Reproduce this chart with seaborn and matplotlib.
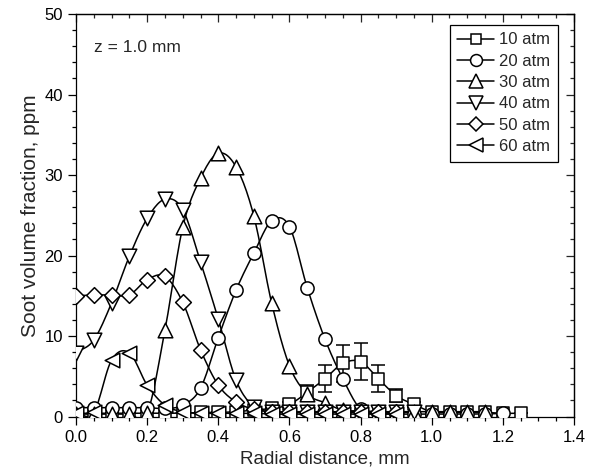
import numpy as np
import pandas as pd
import matplotlib
matplotlib.use("Agg")
import matplotlib.pyplot as plt
from matplotlib.lines import Line2D
from matplotlib.ticker import MultipleLocator
import seaborn as sns

# ---------------- data ----------------
x10 = [0.0, 0.05, 0.10, 0.15, 0.20, 0.25, 0.30, 0.35, 0.40, 0.45, 0.50, 0.55, 0.60,
       0.65, 0.70, 0.75, 0.80, 0.85, 0.90, 0.95, 1.00, 1.05, 1.10, 1.15, 1.20, 1.25]
y10 = [0.4, 0.4, 0.4, 0.4, 0.4, 0.4, 0.4, 0.5, 0.5, 0.6, 0.8, 1.0, 1.5,
       3.0, 4.7, 6.6, 6.8, 4.7, 2.6, 1.5, 0.6, 0.5, 0.5, 0.5, 0.4, 0.4]
e10 = [0, 0, 0, 0, 0, 0, 0, 0, 0, 0, 0, 0, 0.3,
       0.9, 1.7, 2.3, 2.3, 1.7, 0.8, 0.3, 0, 0, 0, 0, 0, 0]

x20 = [0.0, 0.05, 0.10, 0.15, 0.20, 0.25, 0.30, 0.35, 0.40, 0.45, 0.50, 0.55, 0.60,
       0.65, 0.70, 0.75, 0.80, 0.85, 0.90, 0.95, 1.00, 1.05, 1.10, 1.15, 1.20]
y20 = [1.1, 1.1, 1.1, 1.1, 1.1, 1.0, 1.4, 3.5, 9.8, 15.7, 20.3, 24.3, 23.6,
       16.0, 9.6, 4.7, 0.9, 0.4, 0.3, 0.3, 0.3, 0.3, 0.3, 0.3, 0.4]

x30 = [0.0, 0.05, 0.10, 0.15, 0.20, 0.25, 0.30, 0.35, 0.40, 0.45, 0.50, 0.55,
       0.60, 0.65, 0.70, 0.75, 0.80, 0.85, 0.90, 0.95, 1.00, 1.05, 1.10, 1.15]
y30 = [0.3, 0.3, 0.3, 0.3, 0.4, 10.7, 23.5, 29.6, 32.7, 31.0, 24.9, 14.1,
       6.3, 2.8, 1.7, 0.8, 0.7, 0.6, 0.6, 0.6, 0.6, 0.6, 0.6, 0.6]

x40 = [0.0, 0.05, 0.10, 0.15, 0.20, 0.25, 0.30, 0.35, 0.40, 0.45, 0.50, 0.55,
       0.60, 0.65, 0.70, 0.75, 0.80, 0.85, 0.90, 0.95]
y40 = [7.9, 9.5, 14.1, 19.9, 24.6, 27.0, 25.7, 19.2, 12.1, 4.5, 1.2, 0.6,
       0.6, 0.6, 0.6, 0.6, 0.6, 0.5, 0.5, 0.5]

x50 = [0.0, 0.05, 0.10, 0.15, 0.20, 0.25, 0.30, 0.35, 0.40, 0.45, 0.50, 0.55,
       0.60, 0.65, 0.70, 0.75, 0.80, 0.85, 0.90]
y50 = [15.0, 15.1, 15.1, 15.1, 17.0, 17.4, 14.2, 8.3, 3.9, 1.8, 0.9, 0.6,
       0.5, 0.5, 0.5, 0.5, 0.5, 0.5, 0.5]

x60 = [0.0, 0.05, 0.10, 0.15, 0.20, 0.25, 0.30, 0.35, 0.40, 0.45, 0.50, 0.55,
       0.60, 0.65, 0.70, 0.75, 0.80, 0.85, 0.90]
y60 = [0.4, 0.5, 7.0, 7.9, 3.9, 1.4, 0.6, 0.4, 0.4, 0.4, 0.4, 0.3,
       0.3, 0.3, 0.3, 0.3, 0.3, 0.3, 0.3]

labels = ["10 atm", "20 atm", "30 atm", "40 atm", "50 atm", "60 atm"]
markers = ["s", "o", "^", "v", "D", "<"]
msizes = [8.5, 9.5, 10.5, 10.5, 8, 10.5]

series = [(x10, y10), (x20, y20), (x30, y30), (x40, y40), (x50, y50), (x60, y60)]

# ---------------- style ----------------
sns.set_style("ticks")
plt.rcParams["font.family"] = ["Liberation Sans", "DejaVu Sans"]
plt.rcParams["axes.linewidth"] = 0.9


def smooth(x, y, n=12):
    """Catmull-Rom curve through the data points (for drawing only)."""
    x = np.asarray(x, float)
    y = np.asarray(y, float)
    P = np.column_stack([x, y])
    P = np.vstack([2 * P[0] - P[1], P, 2 * P[-1] - P[-2]])
    out = []
    t = np.linspace(0, 1, n, endpoint=False)
    for i in range(1, len(P) - 2):
        p0, p1, p2, p3 = P[i - 1], P[i], P[i + 1], P[i + 2]
        t2 = t * t
        t3 = t2 * t
        seg = 0.5 * ((2 * p1)[None, :] + (-p0 + p2)[None, :] * t[:, None]
                     + (2 * p0 - 5 * p1 + 4 * p2 - p3)[None, :] * t2[:, None]
                     + (-p0 + 3 * p1 - 3 * p2 + p3)[None, :] * t3[:, None])
        out.append(seg)
    out.append(P[-2][None, :])
    out = np.vstack(out)
    return out[:, 0], out[:, 1]


fig = plt.figure(figsize=(5.93, 4.73), dpi=100)
ax = fig.add_axes([76 / 593, 1 - 416.5 / 473, (574 - 76) / 593, (416.5 - 14) / 473])

# error bars for 10 atm
ax.errorbar(x10, y10, yerr=e10, fmt="none", ecolor="black", elinewidth=1.1,
            capsize=5, capthick=1.1, zorder=2)

for (xs, ys), lab, m, ms in zip(series, labels, markers, msizes):
    sx, sy = smooth(xs, ys)
    df_line = pd.DataFrame({"x": sx, "y": sy})
    sns.lineplot(data=df_line, x="x", y="y", ax=ax, color="black", linewidth=1.1,
                 sort=False, estimator=None, zorder=3)
    df_pts = pd.DataFrame({"x": xs, "y": ys})
    sns.scatterplot(data=df_pts, x="x", y="y", ax=ax, marker=m, s=ms ** 2,
                    facecolor="white", edgecolor="black", linewidth=1.1, zorder=4)

ax.set_xlim(0, 1.4)
ax.set_ylim(0, 50)
ax.xaxis.set_major_locator(MultipleLocator(0.2))
ax.xaxis.set_minor_locator(MultipleLocator(0.05))
ax.yaxis.set_major_locator(MultipleLocator(10))
ax.yaxis.set_minor_locator(MultipleLocator(2))
ax.set_xticklabels([f"{v:.1f}" for v in ax.get_xticks()])
ax.tick_params(which="major", direction="out", length=6, width=0.9, labelsize=12,
               color="black", labelcolor="black")
ax.tick_params(which="minor", direction="out", length=3, width=0.9, color="black")
for s in ax.spines.values():
    s.set_visible(True)
    s.set_color("black")

# inward ticks on top and right
secx = ax.secondary_xaxis("top")
secx.xaxis.set_major_locator(MultipleLocator(0.2))
secx.xaxis.set_minor_locator(MultipleLocator(0.05))
secx.tick_params(which="major", direction="in", length=6, width=0.9, labeltop=False)
secx.tick_params(which="minor", direction="in", length=3, width=0.9)
secy = ax.secondary_yaxis("right")
secy.yaxis.set_major_locator(MultipleLocator(10))
secy.yaxis.set_minor_locator(MultipleLocator(2))
secy.tick_params(which="major", direction="in", length=6, width=0.9, labelright=False)
secy.tick_params(which="minor", direction="in", length=3, width=0.9)

ax.set_xlabel("Radial distance, mm", fontsize=13.5, labelpad=4)
ax.set_ylabel("Soot volume fraction, ppm", fontsize=15, labelpad=3)

ax.text(0.05, 45.9, "z = 1.0 mm", fontsize=12.5, va="center", ha="left")

handles = [Line2D([0], [0], color="black", lw=1.1, marker=m, markersize=ms * 0.9,
                  markerfacecolor="white", markeredgecolor="black", markeredgewidth=1.1)
           for m, ms in zip(markers, msizes)]
leg = ax.legend(handles, labels, loc="upper right", bbox_to_anchor=(0.967, 0.973),
                borderaxespad=0, fontsize=12, frameon=True, fancybox=False,
                edgecolor="black", framealpha=1, handlelength=2.2, handletextpad=0.3,
                labelspacing=0.38, borderpad=0.45, numpoints=1)
leg.get_frame().set_linewidth(0.9)

fig.savefig("out.png", dpi=100)
